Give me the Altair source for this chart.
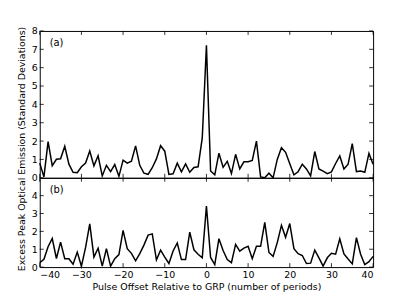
import altair as alt
import pandas as pd

offsets = list(range(-40, 41))

panel_a = [0.8, 0.05, 1.97, 0.66, 1.01, 1.04, 1.72, 0.74, 0.3, 0.28,
           0.6, 0.8, 1.46, 0.65, 1.2, 0.1, 0.68, 0.34, 0.72, 0.08,
           0.96, 0.8, 0.9, 1.74, 0.68, 0.25, 0.19, 0.55, 1.03, 1.75,
           1.45, 0.18, 0.22, 0.8, 0.32, 0.76, 0.3, 0.56, 0.6, 2.17,
           7.22,
           0.37, 0.16, 1.34, 0.57, 0.9, 0.23, 1.28, 0.48, 0.87, 0.88,
           0.95, 2.0, 0.05, 0.0, 0.25, 0.0, 1.0, 1.64, 1.39, 0.76,
           0.16, 0.33, 0.74, 0.48, 0.1, 1.43, 0.48, 0.36, 0.23, 0.32,
           0.78, 1.19, 0.48, 0.74, 1.86, 0.34, 0.37, 0.3, 1.33, 0.74]

panel_b = [0.24, 0.44, 1.14, 1.6, 0.48, 1.4, 0.47, 0.47, 0.16, 0.84,
           0.05, 1.1, 2.42, 0.56, 1.06, 0.05, 1.03, 0.05, 0.47, 0.7,
           2.06, 1.03, 0.77, 0.35, 0.75, 1.23, 1.79, 1.86, 0.4, 0.95,
           0.56, 0.2, 0.9, 1.35, 0.42, 0.42, 1.96, 0.97, 0.72, 0.52,
           3.42,
           0.54, 0.14, 1.59, 0.93, 0.42, 0.25, 1.27, 0.89, 1.06, 1.16,
           0.47, 1.16, 1.16, 2.5, 0.82, 0.6, 1.37, 2.34, 1.67, 2.44,
           1.03, 0.75, 0.65, 0.2, 0.22, 0.95, 0.52, 0.05, 0.52, 0.77,
           0.72, 1.58, 0.74, 0.45, 0.18, 1.65, 0.72, 0.14, 0.3, 0.6]

x_ticks = [-40, -30, -20, -10, 0, 10, 20, 30, 40]
y_ticks_a = [0, 1, 2, 3, 4, 5, 6, 7, 8]
y_ticks_b = [0, 1, 2, 3, 4]

x_title = "Pulse Offset Relative to GRP (number of periods)"
y_title = "Excess Peak Optical Emission (Standard Deviations)"

W = 336
H_A = 148
H_B = 90
TICK = 4
FONT = "DejaVu Sans"
FS = 9.5


def panel(values, ymax, yticks, h, label, show_x, show_ytitle):
    df = pd.DataFrame({"offset": offsets, "value": values})
    xscale = alt.Scale(domain=[-40, 40], nice=False, zero=False)
    yscale = alt.Scale(domain=[0, ymax], nice=False, zero=True)
    if show_x:
        xaxis = alt.Axis(values=x_ticks, ticks=False, domain=False, grid=False,
                         labelPadding=2, title=x_title, titleY=22.5,
                         titleBaseline="alphabetic")
    else:
        xaxis = None
    if show_ytitle:
        yaxis = alt.Axis(values=yticks, ticks=False, domain=False, grid=False,
                         labelPadding=2.5, title=y_title, titleX=-15.5,
                         titleY=118.5, titleAlign="center",
                         titleBaseline="alphabetic")
    else:
        yaxis = alt.Axis(values=yticks, ticks=False, domain=False, grid=False,
                         labelPadding=2.5, title="")

    X = alt.X("offset:Q", scale=xscale, axis=xaxis)
    Y = alt.Y("value:Q", scale=yscale, axis=yaxis)

    line = alt.Chart(df).mark_line(color="black", strokeWidth=1.5).encode(x=X, y=Y)

    xt = pd.DataFrame({"offset": x_ticks})
    yt = pd.DataFrame({"value": yticks})
    rule = dict(color="black", strokeWidth=0.8)
    bottom_t = alt.Chart(xt).mark_rule(**rule).encode(
        x=X, y=alt.value(h), y2=alt.value(h - TICK))
    top_t = alt.Chart(xt).mark_rule(**rule).encode(
        x=X, y=alt.value(0), y2=alt.value(TICK))
    left_t = alt.Chart(yt).mark_rule(**rule).encode(
        y=Y, x=alt.value(0), x2=alt.value(TICK))
    right_t = alt.Chart(yt).mark_rule(**rule).encode(
        y=Y, x=alt.value(W), x2=alt.value(W - TICK))

    txt = alt.Chart(pd.DataFrame({"label": [label]})).mark_text(
        align="left", baseline="middle", fontSize=10, font=FONT, color="black"
    ).encode(text="label:N", x=alt.value(10), y=alt.value(12.5))

    return alt.layer(line, bottom_t, top_t, left_t, right_t, txt).properties(
        width=W, height=h)


top = panel(panel_a, 8, y_ticks_a, H_A, "(a)", False, True)
bottom = panel(panel_b, 5, y_ticks_b, H_B, "(b)", True, False)

chart = alt.vconcat(top, bottom, spacing=0, bounds="flush").properties(
    padding={"left": 7, "top": 16, "right": 10, "bottom": 2},
).configure_view(
    stroke="black", strokeWidth=1
).configure_axis(
    labelFont=FONT, titleFont=FONT, labelFontSize=FS, titleFontSize=FS,
    labelColor="black", titleColor="black", titleFontWeight="normal"
)

chart.save("out.html", embed_options={"renderer": "svg", "actions": False})
